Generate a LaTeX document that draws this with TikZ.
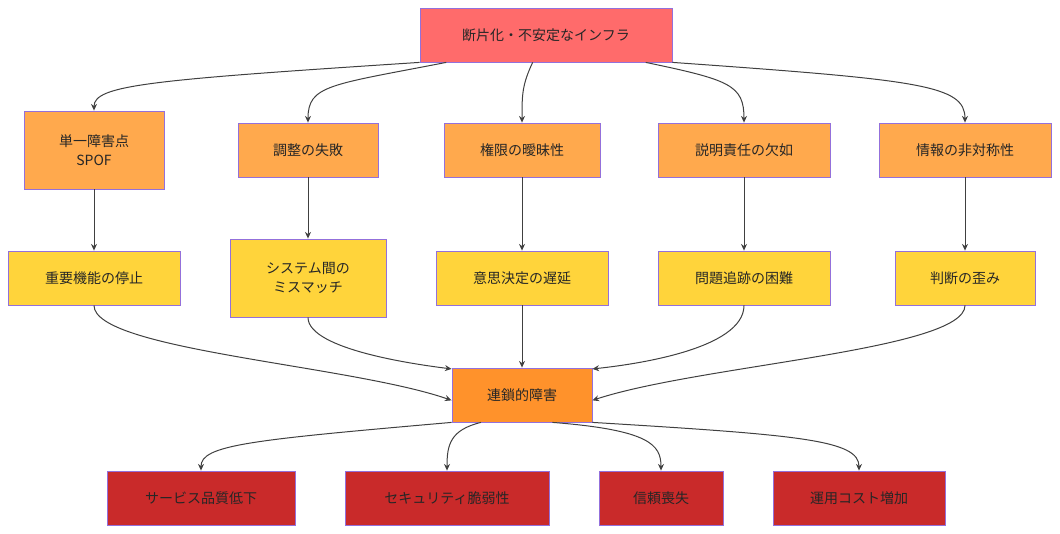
\documentclass[tikz,border=0pt]{standalone}
\usepackage{fontspec}
\setmainfont{Noto Sans CJK JP}
\usetikzlibrary{arrows.meta}
\definecolor{cTop}{HTML}{FF6B6B}
\definecolor{cMid}{HTML}{FFA94D}
\definecolor{cLow}{HTML}{FFD43B}
\definecolor{cHub}{HTML}{FF922B}
\definecolor{cEnd}{HTML}{C92A2A}
\definecolor{cLine}{HTML}{9370DB}
\tikzset{
  box/.style={draw=cLine, line width=0.6pt, minimum height=40.5pt, align=center, font=\fontsize{10.5}{14}\selectfont, text=black!85},
  edge/.style={draw=black!75, line width=0.75pt, -{Stealth[length=5pt,width=4.5pt]}}
}
\begin{document}
\begin{tikzpicture}[x=0.75pt, y=-0.75pt]
    \useasboundingbox (0,0) rectangle (1060,534);
    % Source
    \node[box, fill=cTop, minimum width=189pt] (src) at (546,35) {断片化・不安定なインフラ};

    % Causes
    \node[box, fill=cMid, minimum width=105pt, minimum height=58.5pt] (spof) at (94,150) {単一障害点\\SPOF};
    \node[box, fill=cMid, minimum width=105pt] (coord) at (308,150) {調整の失敗};
    \node[box, fill=cMid, minimum width=117pt] (auth) at (522,150) {権限の曖昧性};
    \node[box, fill=cMid, minimum width=129pt] (resp) at (744,150) {説明責任の欠如};
    \node[box, fill=cMid, minimum width=129pt] (info) at (965,150) {情報の非対称性};

    % Effects
    \node[box, fill=cLow, minimum width=129pt] (stop) at (94,278) {重要機能の停止};
    \node[box, fill=cLow, minimum width=117pt, minimum height=58.5pt] (mism) at (308,278) {システム間の\\ミスマッチ};
    \node[box, fill=cLow, minimum width=129pt] (delay) at (522,278) {意思決定の遅延};
    \node[box, fill=cLow, minimum width=129pt] (track) at (744,278) {問題追跡の困難};
    \node[box, fill=cLow, minimum width=105pt] (bias) at (965,278) {判断の歪み};

    % Hub
    \node[box, fill=cHub, minimum width=105pt] (chain) at (522,395) {連鎖的障害};

    % Results
    \node[box, fill=cEnd, minimum width=141pt] (qual) at (201,498) {サービス品質低下};
    \node[box, fill=cEnd, minimum width=153pt] (sec) at (447,498) {セキュリティ脆弱性};
    \node[box, fill=cEnd, minimum width=93pt] (trust) at (661,498) {信頼喪失};
    \node[box, fill=cEnd, minimum width=129pt] (cost) at (859,498) {運用コスト増加};

    \draw[edge] (src.south west) ++(0,0) .. controls (150,80) and (94,85) .. (spof.north);
    \draw[edge] ([xshift=20pt]src.south west) .. controls (330,85) and (308,85) .. (coord.north);
    \draw[edge] ([xshift=-10pt]src.south) .. controls (522,85) and (522,95) .. (auth.north);
    \draw[edge] ([xshift=-20pt]src.south east) .. controls (730,80) and (744,85) .. (resp.north);
    \draw[edge] (src.south east) .. controls (920,80) and (965,85) .. (info.north);

    \foreach \a/\b in {spof/stop, coord/mism, auth/delay, resp/track, info/bias}
        \draw[edge] (\a) -- (\b);

    \draw[edge] (stop.south) .. controls (94,350) and (350,365) .. ([yshift=-4pt]chain.west);
    \draw[edge] (mism.south) .. controls (308,350) and (420,365) .. ([yshift=-1pt]chain.north west);
    \draw[edge] (delay) -- (chain);
    \draw[edge] (track.south) .. controls (744,350) and (630,365) .. ([yshift=-1pt]chain.north east);
    \draw[edge] (bias.south) .. controls (965,350) and (700,365) .. ([yshift=-4pt]chain.east);

    \draw[edge] (chain.south west) .. controls (250,440) and (201,445) .. (qual.north);
    \draw[edge] ([xshift=22pt]chain.south west) .. controls (450,430) and (447,445) .. (sec.north);
    \draw[edge] ([xshift=-30pt]chain.south east) .. controls (650,430) and (661,445) .. (trust.north);
    \draw[edge] (chain.south east) .. controls (800,435) and (859,440) .. (cost.north);
\end{tikzpicture}
\end{document}
